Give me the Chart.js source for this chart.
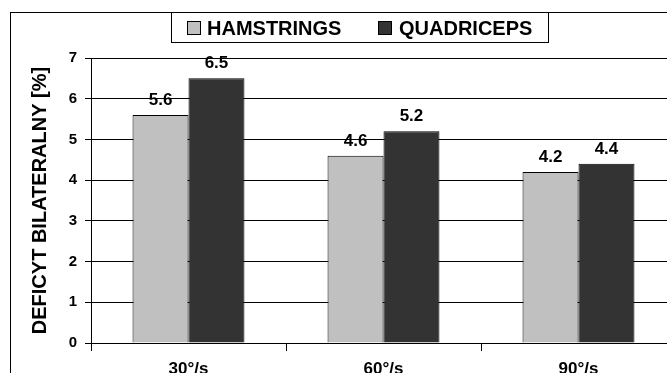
<!DOCTYPE html>
<html>
<head>
<meta charset="utf-8">
<script src="https://cdn.jsdelivr.net/npm/chart.js@4"></script>
<style>
  html, body { margin: 0; padding: 0; background: #fff; overflow: hidden; }
  #wrap { width: 720px; height: 400px; }
</style>
</head>
<body>
<div id="wrap"><canvas id="c" width="720" height="400"></canvas></div>
<script>
// Bilateral deficit by angular velocity
const categories = ['30°/s', '60°/s', '90°/s'];
const hamstrings = [5.6, 4.6, 4.2];
const quadriceps = [6.5, 5.2, 4.4];
const seriesNames = ['HAMSTRINGS', 'QUADRICEPS'];
const yTicks = [0, 1, 2, 3, 4, 5, 6, 7];
const yTitle = 'DEFICYT BILATERALNY [%]';

const FONT = "'Liberation Sans', Arial, Helvetica, sans-serif";
const fills = ['#C0C0C0', '#333333'];

// Outer frame and boxed legend
const framePlugin = {
  id: 'frame',
  afterDraw(chart) {
    const ctx = chart.ctx;
    ctx.save();
    ctx.strokeStyle = '#000';
    ctx.lineWidth = 1;
    ctx.strokeRect(10.5, 12.5, 800, 500);
    // legend box
    ctx.fillStyle = '#fff';
    ctx.fillRect(171, 12, 377, 30);
    ctx.strokeRect(171.5, 12.5, 377, 30);
    const items = [{ sx: 187, tx: 207 }, { sx: 378, tx: 399 }];
    ctx.font = 'bold 20px ' + FONT;
    ctx.textBaseline = 'alphabetic';
    ctx.textAlign = 'left';
    items.forEach((it, i) => {
      ctx.fillStyle = fills[i];
      ctx.fillRect(it.sx, 21, 14, 14);
      ctx.strokeStyle = '#000';
      ctx.strokeRect(it.sx + 0.5, 21.5, 13, 13);
      ctx.fillStyle = '#000';
      ctx.fillText(seriesNames[i], it.tx, 35);
    });
    ctx.restore();
  }
};

// Value labels above each bar
const valueLabels = {
  id: 'valueLabels',
  afterDatasetsDraw(chart) {
    const ctx = chart.ctx;
    ctx.save();
    ctx.font = 'bold 17px ' + FONT;
    ctx.fillStyle = '#000';
    ctx.textAlign = 'center';
    ctx.textBaseline = 'alphabetic';
    chart.data.datasets.forEach((ds, di) => {
      chart.getDatasetMeta(di).data.forEach((bar, i) => {
        ctx.fillText(ds.data[i].toFixed(1), bar.x, bar.y - 10);
      });
    });
    ctx.restore();
  }
};

new Chart(document.getElementById('c'), {
  type: 'bar',
  data: {
    labels: categories,
    datasets: [
      { label: seriesNames[0], data: hamstrings, backgroundColor: fills[0], borderColor: '#000', borderWidth: 1 },
      { label: seriesNames[1], data: quadriceps, backgroundColor: fills[1], borderColor: '#000', borderWidth: 1 }
    ]
  },
  options: {
    responsive: false,
    animation: false,
    devicePixelRatio: 1,
    layout: { padding: { left: 10, top: 58, right: 44, bottom: 0 } },
    datasets: { bar: { categoryPercentage: 0.574, barPercentage: 1.0 } },
    plugins: { legend: { display: false }, tooltip: { enabled: false } },
    scales: {
      x: {
        afterFit(s) { s.height = 57; },
        grid: { offset: true, drawOnChartArea: false, drawTicks: true, tickLength: 8, color: '#000' },
        border: { color: '#000', width: 1 },
        ticks: { color: '#000', padding: 8, font: { family: FONT, size: 17, weight: 'bold' } }
      },
      y: {
        min: 0, max: 7,
        afterFit(s) { s.width = 81; },
        afterBuildTicks(s) { s.ticks = yTicks.map(v => ({ value: v })); },
        grid: { color: '#000', lineWidth: 1, tickLength: 6 },
        border: { color: '#000', width: 1 },
        ticks: { color: '#000', padding: 8, font: { family: FONT, size: 15, weight: 'bold' } },
        title: {
          display: true, text: yTitle, color: '#000',
          padding: { top: 18, bottom: 0 },
          font: { family: FONT, size: 20, weight: 'bold' }
        }
      }
    }
  },
  plugins: [valueLabels, framePlugin]
});
</script>
</body>
</html>
